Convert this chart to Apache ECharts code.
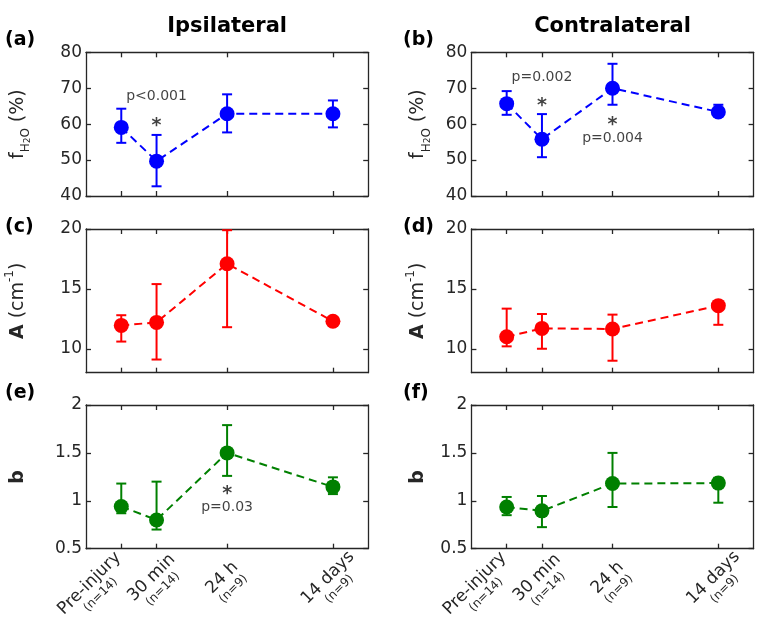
<!DOCTYPE html>
<html><head><meta charset="utf-8">
<script src="https://cdn.jsdelivr.net/npm/echarts@6/dist/echarts.min.js"></script>
<style>html,body{margin:0;padding:0;background:#fff}#chart{width:774px;height:638px}</style>
</head><body><div id="chart"></div>
<script>
// ---------- data ----------
const timeLabels = ['Pre-injury', '30 min', '24 h', '14 days'];
const groupSizes = ['(n=14)', '(n=14)', '(n=9)', '(n=9)'];
const timeX = [1, 2, 4, 7];

const ipsiWaterMean  = [59.1, 49.7, 62.9, 62.9];
const ipsiWaterUpper = [64.3, 57.0, 68.3, 66.6];
const ipsiWaterLower = [54.8, 42.7, 57.7, 59.1];
const contraWaterMean  = [65.7, 55.8, 70.0, 63.4];
const contraWaterUpper = [69.2, 62.8, 76.8, 65.4];
const contraWaterLower = [62.6, 50.8, 65.4, 62.3];

const ipsiAMean  = [11.95, 12.2, 17.1, 12.3];
const ipsiAUpper = [12.8, 15.4, 19.9, 12.6];
const ipsiALower = [10.6, 9.1, 11.8, 12.0];
const contraAMean  = [11.0, 11.7, 11.65, 13.6];
const contraAUpper = [13.35, 12.9, 12.85, 13.9];
const contraALower = [10.2, 10.0, 9.0, 12.0];

const ipsiBMean  = [0.94, 0.80, 1.50, 1.145];
const ipsiBUpper = [1.18, 1.20, 1.79, 1.245];
const ipsiBLower = [0.87, 0.70, 1.26, 1.07];
const contraBMean  = [0.935, 0.895, 1.18, 1.185];
const contraBUpper = [1.04, 1.05, 1.50, 1.24];
const contraBLower = [0.85, 0.725, 0.935, 0.98];

const waterTicks = [40, 50, 60, 70, 80];
const aTicks = [10, 15, 20];
const bTicks = [0.5, 1, 1.5, 2];
const waterRange = [40, 80];
const aRange = [8, 20];
const bRange = [0.5, 2];
const timeRange = [0, 8];

const ipsiWaterNotes = [{ text: 'p<0.001', x: 2, y: 67.8 }, { text: '*', x: 2, y: 59.5 }];
const contraWaterNotes = [
  { text: 'p=0.002', x: 2, y: 73.1 }, { text: '*', x: 2, y: 65.0 },
  { text: '*', x: 4, y: 59.75 }, { text: 'p=0.004', x: 4, y: 56.1 }
];
const ipsiBNotes = [{ text: '*', x: 4, y: 1.07 }, { text: 'p=0.03', x: 4, y: 0.927 }];
const noNotes = [];

const columnTitles = ['Ipsilateral', 'Contralateral'];
const panelLetters = ['(a)', '(b)', '(c)', '(d)', '(e)', '(f)'];

// ---------- layout / style ----------
const FONT = 'DejaVu Sans';
const AXIS_COLOR = '#262626';
const colLeft = [86, 471.4];
const gridWidth = 282.2;
const rowTop = [52.3, 229, 405];
const gridHeight = 143.7;
const nameGaps = [68, 53];

const rows = [
  { ticks: waterTicks, range: waterRange, color: '#0000ff',
    name: '{f|f}{sub|H}{sub2|2}{sub|O}{m| (%)}',
    panels: [[ipsiWaterMean, ipsiWaterUpper, ipsiWaterLower, ipsiWaterNotes],
             [contraWaterMean, contraWaterUpper, contraWaterLower, contraWaterNotes]] },
  { ticks: aTicks, range: aRange, color: '#ff0000',
    name: '{bold|A}{m| (cm}{sup|-1}{m|)}',
    panels: [[ipsiAMean, ipsiAUpper, ipsiALower, noNotes],
             [contraAMean, contraAUpper, contraALower, noNotes]] },
  { ticks: bTicks, range: bRange, color: '#008000',
    name: '{bold|b}',
    panels: [[ipsiBMean, ipsiBUpper, ipsiBLower, ipsiBNotes],
             [contraBMean, contraBUpper, contraBLower, noNotes]] }
];

const nameRich = {
  f: { fontFamily: FONT, fontSize: 19, lineHeight: 28, color: AXIS_COLOR },
  m: { fontFamily: FONT, fontSize: 19, lineHeight: 28, color: AXIS_COLOR },
  sub: { fontFamily: FONT, fontSize: 12, lineHeight: 12, verticalAlign: 'bottom', color: AXIS_COLOR },
  sub2: { fontFamily: FONT, fontSize: 9, lineHeight: 9, verticalAlign: 'bottom', color: AXIS_COLOR },
  sup: { fontFamily: FONT, fontSize: 12, lineHeight: 12, verticalAlign: 'top', color: AXIS_COLOR },
  bold: { fontFamily: FONT, fontSize: 19, fontWeight: 'bold', lineHeight: 28, color: AXIS_COLOR }
};

const xLabelRich = {
  a: { fontFamily: FONT, fontSize: 17, lineHeight: 18, color: AXIS_COLOR },
  n: { fontFamily: FONT, fontSize: 12, lineHeight: 14, color: AXIS_COLOR },
  gap: { fontSize: 1, lineHeight: 1, width: 46, color: 'rgba(0,0,0,0)' },
  vgap: { fontSize: 1, lineHeight: 30, color: 'rgba(0,0,0,0)' }
};
// an empty (hidden) label at the axis minimum keeps the first real label from being dropped
const labelValues = [timeRange[0]].concat(timeX);

const grids = [], xAxes = [], yAxes = [], series = [];
const lineStyleAxis = { color: AXIS_COLOR, width: 1.3 };

rows.forEach((row, r) => {
  row.panels.forEach((p, c) => {
    const k = r * 2 + c;
    grids.push({ left: colLeft[c], top: rowTop[r], width: gridWidth, height: gridHeight, outerBoundsMode: 'none' });
    const showX = r === 2;
    xAxes.push({
      type: 'value', gridIndex: k, min: timeRange[0], max: timeRange[1], position: 'bottom',
      axisLine: { show: true, onZero: false, lineStyle: lineStyleAxis },
      axisTick: { show: true, inside: true, length: 5, customValues: timeX, lineStyle: lineStyleAxis },
      splitLine: { show: false },
      axisLabel: {
        show: showX, customValues: labelValues, rotate: 45, margin: 34, align: 'center', verticalAlign: 'middle',
        hideOverlap: false, showMinLabel: false, showMaxLabel: true,
        formatter: (v) => {
          const i = timeX.indexOf(v);
          if (i < 0) return '';
          if (i === 0) {
            return '{a|' + timeLabels[i] + '}{gap| }\n{n|' + groupSizes[i] + '}{gap| }\n{vgap| }';
          }
          return '{a|' + timeLabels[i] + '}\n{n|' + groupSizes[i] + '}';
        },
        rich: xLabelRich
      }
    });
    xAxes.push({
      type: 'value', gridIndex: k, min: timeRange[0], max: timeRange[1], position: 'top',
      axisLine: { show: true, onZero: false, lineStyle: lineStyleAxis },
      axisTick: { show: true, inside: true, length: 5, customValues: timeX, lineStyle: lineStyleAxis },
      splitLine: { show: false }, axisLabel: { show: false }
    });
    yAxes.push({
      type: 'value', gridIndex: k, min: row.range[0], max: row.range[1], position: 'left',
      name: row.name, nameLocation: 'middle', nameRotate: 90, nameGap: nameGaps[c],
      nameTextStyle: { align: 'center', verticalAlign: 'middle', rich: nameRich },
      axisLine: { show: true, onZero: false, lineStyle: lineStyleAxis },
      axisTick: { show: true, inside: true, length: 5, customValues: row.ticks, lineStyle: lineStyleAxis },
      splitLine: { show: false },
      axisLabel: { show: true, customValues: row.ticks, margin: 4, hideOverlap: false, fontFamily: FONT, fontSize: 17, color: AXIS_COLOR }
    });
    yAxes.push({
      type: 'value', gridIndex: k, min: row.range[0], max: row.range[1], position: 'right',
      axisLine: { show: true, onZero: false, lineStyle: lineStyleAxis },
      axisTick: { show: true, inside: true, length: 5, customValues: row.ticks, lineStyle: lineStyleAxis },
      splitLine: { show: false }, axisLabel: { show: false }
    });

    const [mean, upper, lower, notes] = p;
    const color = row.color;
    series.push({
      type: 'custom', xAxisIndex: 2 * k, yAxisIndex: 2 * k, z: 1,
      data: timeX.map((x, i) => [x, lower[i], upper[i]]),
      encode: { x: 0, y: [1, 2] },
      renderItem: (params, api) => {
        const x = api.value(0);
        const lo = api.coord([x, api.value(1)]);
        const hi = api.coord([x, api.value(2)]);
        const hw = 5;
        const st = { stroke: color, lineWidth: 2 };
        return { type: 'group', children: [
          { type: 'line', shape: { x1: lo[0], y1: lo[1], x2: hi[0], y2: hi[1] }, style: st },
          { type: 'line', shape: { x1: lo[0] - hw, y1: lo[1], x2: lo[0] + hw, y2: lo[1] }, style: st },
          { type: 'line', shape: { x1: hi[0] - hw, y1: hi[1], x2: hi[0] + hw, y2: hi[1] }, style: st }
        ] };
      }
    });
    series.push({
      type: 'line', xAxisIndex: 2 * k, yAxisIndex: 2 * k, z: 3,
      data: timeX.map((x, i) => [x, mean[i]]),
      symbol: 'circle', symbolSize: 15, showSymbol: true,
      itemStyle: { color: color, opacity: 1 },
      lineStyle: { color: color, width: 2, type: [8, 5] },
      animation: false
    });
    if (notes.length) {
      series.push({
        type: 'scatter', xAxisIndex: 2 * k, yAxisIndex: 2 * k, z: 4,
        symbolSize: 0,
        data: notes.map(n => ({
          value: [n.x, n.y], name: n.text,
          label: n.text === '*'
            ? { fontSize: 19, fontWeight: 'bold' }
            : { fontSize: 14, fontWeight: 'normal' }
        })),
        label: { show: true, position: 'inside', formatter: '{b}', fontFamily: FONT, color: '#111' },
        silent: true, animation: false
      });
    }
  });
});

const graphics = [];
columnTitles.forEach((t, c) => {
  graphics.push({ type: 'text', x: colLeft[c] + gridWidth / 2, y: 27,
    style: { text: t, align: 'center', verticalAlign: 'middle', fontFamily: FONT, fontSize: 21, fontWeight: 'bold', fill: '#000' } });
});
const letterY = [40, 227, 393];
panelLetters.forEach((t, k) => {
  const r = Math.floor(k / 2), c = k % 2;
  graphics.push({ type: 'text', x: c === 0 ? 5 : 403, y: letterY[r],
    style: { text: t, align: 'left', verticalAlign: 'middle', fontFamily: FONT, fontSize: 19, fontWeight: 'bold', fill: '#000' } });
});

const chart = echarts.init(document.getElementById('chart'), null, { renderer: 'canvas' });
chart.setOption({
  backgroundColor: '#fff',
  animation: false,
  textStyle: { fontFamily: FONT },
  grid: grids, xAxis: xAxes, yAxis: yAxes, series: series, graphic: graphics
});
</script>
</body></html>
